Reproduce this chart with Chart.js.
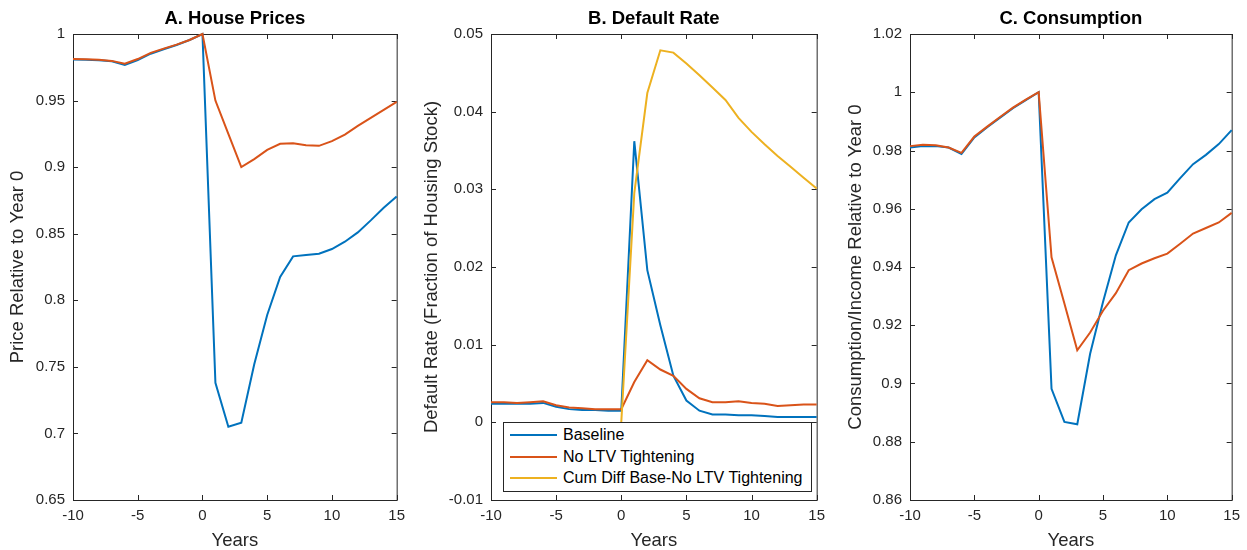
<!DOCTYPE html>
<html>
<head>
<meta charset="utf-8">
<script src="https://cdn.jsdelivr.net/npm/chart.js@4.4.1/dist/chart.umd.min.js"></script>
<style>
  body { margin: 0; background: #fff; overflow: hidden; }
  canvas { position: absolute; top: 0; }
  #legendB {
    position: absolute; left: 503px; top: 422px; width: 309px; height: 70px;
    box-sizing: border-box; border: 1px solid #262626; background: #fff;
    padding-top: 1px; font: 16px "Liberation Sans", Arial, sans-serif; color: #000;
  }
  #legendB .row { height: 21.8px; display: flex; align-items: center; white-space: nowrap; }
  #legendB .swatch { width: 47px; height: 2px; margin: 0 6px 0 6px; }
</style>
</head>
<body>
<canvas id="chartA" width="412" height="550" style="left:0"></canvas>
<canvas id="chartB" width="420" height="550" style="left:412px"></canvas>
<canvas id="chartC" width="415" height="550" style="left:832px"></canvas>
<div id="legendB"></div>
<script>
const years = [-10, -9, -8, -7, -6, -5, -4, -3, -2, -1, 0, 1, 2, 3, 4, 5, 6, 7, 8, 9, 10, 11, 12, 13, 14, 15];
const xTicks = [-10, -5, 0, 5, 10, 15];

// A. house prices
const priceBase = [0.9808, 0.9806, 0.9802, 0.9795, 0.9768, 0.9805, 0.9852, 0.9885, 0.9917, 0.9955, 1.0,
  0.738, 0.705, 0.708, 0.752, 0.789, 0.8175, 0.833, 0.834, 0.835, 0.8385, 0.844, 0.851, 0.86, 0.8695, 0.878];
const priceNoLtv = [0.9812, 0.981, 0.9806, 0.9798, 0.9777, 0.9812, 0.9858, 0.989, 0.992, 0.9955, 1.0,
  0.95, 0.925, 0.9, 0.906, 0.913, 0.9175, 0.918, 0.9165, 0.916, 0.9195, 0.9245, 0.931, 0.937, 0.943, 0.949];
const yTicksA = [0.65, 0.7, 0.75, 0.8, 0.85, 0.9, 0.95, 1];

// B. default rate
const defaultBase = [0.0024, 0.0024, 0.0024, 0.0024, 0.0025, 0.002, 0.0017, 0.0016, 0.0016, 0.0015, 0.0015,
  0.0362, 0.0196, 0.0125, 0.006, 0.0028, 0.0015, 0.001, 0.001, 0.0009, 0.0009, 0.0008, 0.0007, 0.0007, 0.0007, 0.0007];
const defaultNoLtv = [0.0026, 0.0026, 0.0025, 0.0026, 0.0027, 0.0022, 0.0019, 0.0018, 0.0017, 0.0017, 0.0017,
  0.0052, 0.008, 0.0068, 0.006, 0.0043, 0.0031, 0.0026, 0.0026, 0.0027, 0.0025, 0.0024, 0.0021, 0.0022, 0.0023, 0.0023];
const cumDiff = [null, null, null, null, null, null, null, null, null, null, 0,
  0.0295, 0.0424, 0.0479, 0.0476, 0.0462, 0.0447, 0.0431, 0.0415, 0.0392, 0.0374, 0.0358, 0.0343, 0.0329, 0.0315, 0.0301];
const yTicksB = [-0.01, 0, 0.01, 0.02, 0.03, 0.04, 0.05];

// C. consumption
const consBase = [0.981, 0.9815, 0.9815, 0.981, 0.9788, 0.9845, 0.988, 0.9913, 0.9945, 0.9973, 1.0,
  0.8982, 0.8868, 0.886, 0.9102, 0.928, 0.944, 0.9553, 0.9598, 0.9633, 0.9655, 0.9705, 0.9753, 0.9785, 0.9822, 0.987];
const consNoLtv = [0.9815, 0.982, 0.9818, 0.981, 0.9792, 0.9848, 0.9882, 0.9915, 0.9947, 0.9975, 1.0,
  0.9433, 0.9275, 0.9114, 0.9175, 0.925, 0.931, 0.9389, 0.9412, 0.943, 0.9446, 0.948, 0.9515, 0.9534, 0.9553, 0.9586];
const yTicksC = [0.86, 0.88, 0.9, 0.92, 0.94, 0.96, 0.98, 1, 1.02];

const seriesNames = ['Baseline', 'No LTV Tightening', 'Cum Diff Base-No LTV Tightening'];
const colors = ['#0072BD', '#D95319', '#EDB120'];
const FONT = '"Liberation Sans", Arial, Helvetica, sans-serif';

// closed box with inward tick marks on all four sides
const boxTicks = {
  id: 'boxTicks',
  beforeDatasetsDraw(chart) {
    const { ctx, chartArea: a, scales: { x, y } } = chart;
    const len = 5;
    ctx.save();
    ctx.strokeStyle = '#262626';
    ctx.lineWidth = 1;
    ctx.beginPath();
    x.ticks.forEach(t => {
      const px = Math.round(x.getPixelForValue(t.value)) + 0.5;
      ctx.moveTo(px, a.bottom); ctx.lineTo(px, a.bottom - len);
      ctx.moveTo(px, a.top); ctx.lineTo(px, a.top + len);
    });
    y.ticks.forEach(t => {
      const py = Math.round(y.getPixelForValue(t.value)) + 0.5;
      ctx.moveTo(a.left, py); ctx.lineTo(a.left + len, py);
      ctx.moveTo(a.right, py); ctx.lineTo(a.right - len, py);
    });
    ctx.stroke();
    ctx.strokeRect(a.left + 0.5, a.top + 0.5, a.right - a.left, a.bottom - a.top);
    ctx.restore();
  }
};

function line(idx, values) {
  return {
    label: seriesNames[idx],
    data: years.map((x, i) => ({ x, y: values[i] })),
    borderColor: colors[idx],
    backgroundColor: colors[idx],
    borderWidth: 2,
    pointRadius: 0,
    fill: false,
    tension: 0,
    clip: false,
    order: 3 - idx
  };
}

function makePanel(id, title, yTitle, yTicks, datasets, axisWidth, padRight, yTitlePad) {
  return new Chart(document.getElementById(id), {
    type: 'line',
    data: { datasets },
    plugins: [boxTicks],
    options: {
      responsive: false,
      animation: false,
      events: [],
      layout: { padding: { left: 0, right: padRight, top: 0, bottom: 0 } },
      plugins: {
        legend: { display: false },
        tooltip: { enabled: false },
        title: {
          display: true,
          text: title,
          fullSize: false,
          color: '#000',
          font: { family: FONT, size: 18.5, weight: 'bold', lineHeight: 1.2 },
          padding: { top: 7.7, bottom: 4.1 }
        }
      },
      scales: {
        x: {
          type: 'linear',
          min: xTicks[0],
          max: xTicks[xTicks.length - 1],
          afterBuildTicks: s => { s.ticks = xTicks.map(v => ({ value: v })); },
          afterFit: s => { s.height = 50; },
          grid: { display: false, drawTicks: false },
          border: { display: false },
          ticks: { color: '#262626', padding: 7, font: { family: FONT, size: 15, lineHeight: 1.2 },
                   callback: v => String(v) },
          title: { display: true, text: 'Years', color: '#262626',
                   font: { family: FONT, size: 18.5, lineHeight: 1.2 }, padding: { top: 0, bottom: -2.4 } }
        },
        y: {
          min: yTicks[0],
          max: yTicks[yTicks.length - 1],
          afterBuildTicks: s => { s.ticks = yTicks.map(v => ({ value: v })); },
          afterFit: s => { s.width = axisWidth; },
          grid: { display: false, drawTicks: false },
          border: { display: false },
          ticks: { color: '#262626', padding: 8, font: { family: FONT, size: 15, lineHeight: 1.2 },
                   callback: v => String(+v.toFixed(4)) },
          title: { display: true, text: yTitle, color: '#262626',
                   font: { family: FONT, size: 18.5, lineHeight: 1.2 }, padding: { top: yTitlePad, bottom: 0 } }
        }
      }
    }
  });
}

makePanel('chartA', 'A. House Prices', 'Price Relative to Year 0', yTicksA,
  [line(0, priceBase), line(1, priceNoLtv)], 73, 11, 6.4);

makePanel('chartB', 'B. Default Rate', 'Default Rate (Fraction of Housing Stock)', yTicksB,
  [line(0, defaultBase), line(1, defaultNoLtv), line(2, cumDiff)], 79, 12, 8.6);

makePanel('chartC', 'C. Consumption', 'Consumption/Income Relative to Year 0', yTicksC,
  [line(0, consBase), line(1, consNoLtv)], 78, 10, 12.4);

// legend box inside panel B
const legend = document.getElementById('legendB');
seriesNames.forEach((name, i) => {
  const row = document.createElement('div');
  row.className = 'row';
  const sw = document.createElement('span');
  sw.className = 'swatch';
  sw.style.background = colors[i];
  const txt = document.createElement('span');
  txt.textContent = name;
  row.appendChild(sw);
  row.appendChild(txt);
  legend.appendChild(row);
});
</script>
</body>
</html>
